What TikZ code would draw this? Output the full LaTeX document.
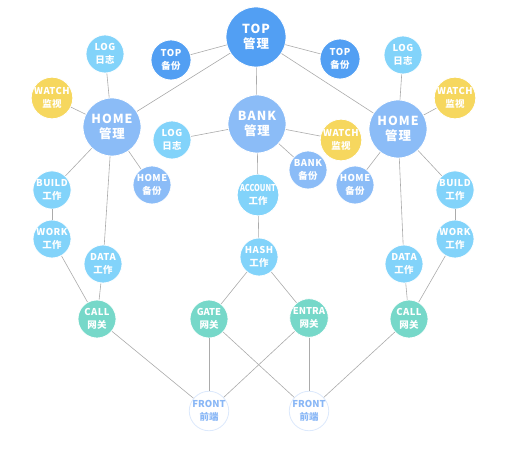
\documentclass[tikz,border=0pt]{standalone}
\usepackage{fontspec}
\setmainfont{Noto Sans CJK SC}
\usetikzlibrary{positioning}
\definecolor{topblue}{HTML}{529FF3}
\definecolor{hubblue}{HTML}{8BBCF7}
\definecolor{skyblue}{HTML}{82D3FA}
\definecolor{watchyellow}{HTML}{F6D75E}
\definecolor{gateteal}{HTML}{76D8C9}
\definecolor{frontblue}{HTML}{89B7F6}
\definecolor{linkgray}{HTML}{ABABAB}
\newcommand{\cnbig}[1]{{\fontsize{12.5}{15}\selectfont #1}}
\newcommand{\cnsmall}[1]{{\fontsize{9.5}{13.5}\selectfont #1}}
\tikzstyle{bubble} = [circle, inner sep=0pt, draw=white, line width=0.8pt, text=white, align=center]
\tikzstyle{hub} = [bubble, minimum size=58bp, font=\bfseries\fontsize{12.5}{15}\selectfont\addfontfeature{LetterSpace=8}]
\tikzstyle{leaf} = [bubble, minimum size=38bp, font=\bfseries\fontsize{9.5}{13.5}\selectfont\addfontfeature{LetterSpace=5}]
\tikzstyle{front} = [leaf, fill=white, draw=frontblue!30, text=frontblue]
\tikzstyle{link} = [draw=linkgray, line width=0.6pt]

\begin{document}
\begin{tikzpicture}[x=1bp, y=-1bp]
\useasboundingbox (0,0) rectangle (510,470);

% top level
\node (top) [hub, fill=topblue, minimum size=60bp] at (256,37) {TOP\\\cnbig{管理}};
\node (topBakL) [leaf, fill=topblue, minimum size=40bp] at (171,60) {TOP\\\cnsmall{备份}};
\node (topBakR) [leaf, fill=topblue, minimum size=40bp] at (340,59) {TOP\\\cnsmall{备份}};

% left home
\node (homeL) [hub, fill=hubblue] at (112,127) {HOME\\\cnbig{管理}};
\node (logL) [leaf, fill=skyblue] at (105,54) {LOG\\\cnsmall{日志}};
\node (watchL) [leaf, fill=watchyellow, minimum size=40bp] at (52,98) {WATCH\\\cnsmall{监视}};
\node (homeBakL) [leaf, fill=hubblue] at (152,185) {HOME\\\cnsmall{备份}};
\node (buildL) [leaf, fill=skyblue] at (52,190) {BUILD\\\cnsmall{工作}};
\node (workL) [leaf, fill=skyblue] at (52,239) {WORK\\\cnsmall{工作}};
\node (dataL) [leaf, fill=skyblue] at (103,264) {DATA\\\cnsmall{工作}};
\node (callL) [leaf, fill=gateteal] at (97,319) {CALL\\\cnsmall{网关}};

% bank
\node (bank) [hub, fill=hubblue] at (257,124) {BANK\\\cnbig{管理}};
\node (logM) [leaf, fill=skyblue] at (172,140) {LOG\\\cnsmall{日志}};
\node (watchM) [leaf, fill=watchyellow] at (341,140) {WATCH\\\cnsmall{监视}};
\node (bankBak) [leaf, fill=hubblue] at (308,170) {BANK\\\cnsmall{备份}};
\node (account) [leaf, fill=skyblue, font=\bfseries\fontsize{9.5}{13.5}\selectfont] at (258,195) {\scalebox{0.78}[1]{ACCOUNT}\\\cnsmall{工作}};
\node (hash) [leaf, fill=skyblue] at (259,257) {HASH\\\cnsmall{工作}};
\node (gate) [leaf, fill=gateteal, font=\bfseries\fontsize{9.5}{13.5}\selectfont] at (209,319) {GATE\\\cnsmall{网关}};
\node (entra) [leaf, fill=gateteal, font=\bfseries\fontsize{9.5}{13.5}\selectfont] at (309,318) {ENTRA\\\cnsmall{网关}};

% right home
\node (homeR) [hub, fill=hubblue] at (398,129) {HOME\\\cnbig{管理}};
\node (logR) [leaf, fill=skyblue] at (403,55) {LOG\\\cnsmall{日志}};
\node (watchR) [leaf, fill=watchyellow, minimum size=40bp] at (455,98) {WATCH\\\cnsmall{监视}};
\node (homeBakR) [leaf, fill=hubblue] at (355,185) {HOME\\\cnsmall{备份}};
\node (buildR) [leaf, fill=skyblue] at (455,190) {BUILD\\\cnsmall{工作}};
\node (workR) [leaf, fill=skyblue] at (455,239) {WORK\\\cnsmall{工作}};
\node (dataR) [leaf, fill=skyblue] at (404,264) {DATA\\\cnsmall{工作}};
\node (callR) [leaf, fill=gateteal] at (409,319) {CALL\\\cnsmall{网关}};

% front ends
\node (frontL) [front, font=\bfseries\fontsize{9.5}{13.5}\selectfont] at (209,411) {FRONT\\\cnsmall{前端}};
\node (frontR) [front, font=\bfseries\fontsize{9.5}{13.5}\selectfont] at (309,411) {FRONT\\\cnsmall{前端}};

\draw [link] (top) -- (topBakL);
\draw [link] (top) -- (topBakR);
\draw [link] (top) -- (homeL);
\draw [link] (top) -- (homeR);
\draw [link] (top) -- (bank);

\draw [link] (homeL) -- (logL);
\draw [link] (homeL) -- (watchL);
\draw [link] (homeL) -- (homeBakL);
\draw [link] (homeL) -- (buildL);
\draw [link] (homeL) -- (dataL);
\draw [link] (buildL) -- (workL);
\draw [link] (workL) -- (callL);
\draw [link] (dataL) -- (callL);
\draw [link] (callL) -- (frontL);

\draw [link] (bank) -- (logM);
\draw [link] (bank) -- (watchM);
\draw [link] (bank) -- (bankBak);
\draw [link] (bank) -- (account);
\draw [link] (account) -- (hash);
\draw [link] (hash) -- (gate);
\draw [link] (hash) -- (entra);
\draw [link] (gate) -- (frontL);
\draw [link] (gate) -- (frontR);
\draw [link] (entra) -- (frontL);
\draw [link] (entra) -- (frontR);

\draw [link] (homeR) -- (logR);
\draw [link] (homeR) -- (watchR);
\draw [link] (homeR) -- (homeBakR);
\draw [link] (homeR) -- (buildR);
\draw [link] (homeR) -- (dataR);
\draw [link] (buildR) -- (workR);
\draw [link] (workR) -- (callR);
\draw [link] (dataR) -- (callR);
\draw [link] (callR) -- (frontR);

\end{tikzpicture}
\end{document}
